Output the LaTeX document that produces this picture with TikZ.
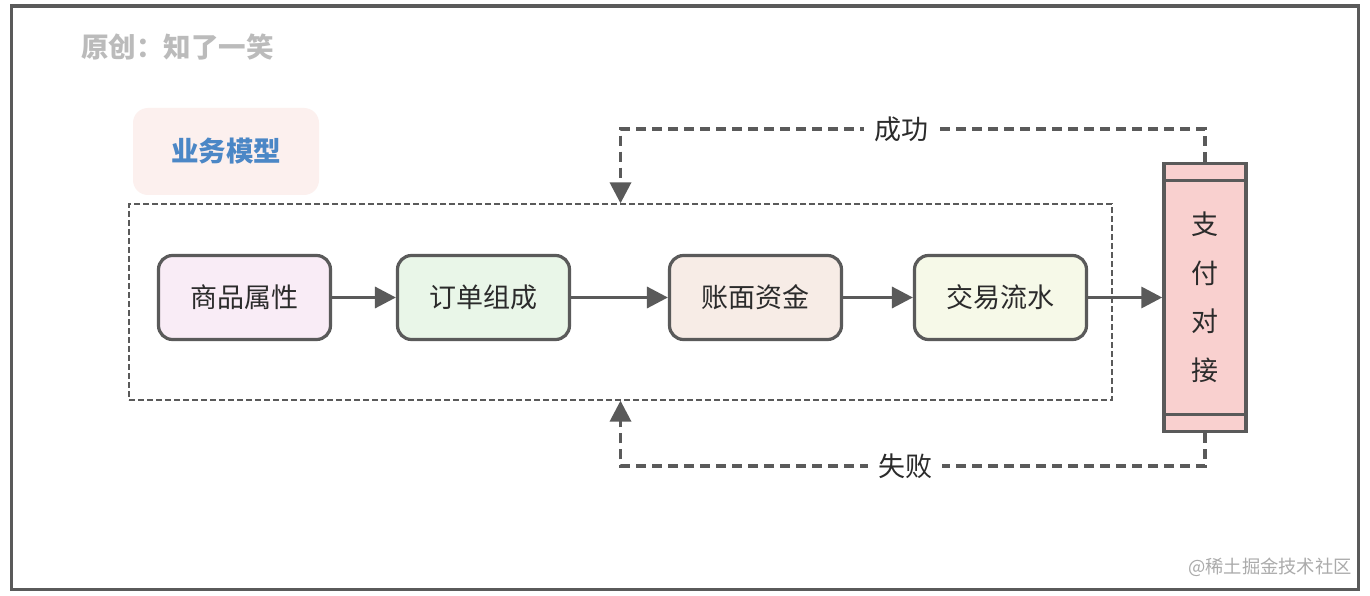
\documentclass[tikz,border=0pt]{standalone}
\usepackage{fontspec}
\setmainfont{Noto Sans CJK SC}
\usetikzlibrary{arrows.meta}
\definecolor{edge}{HTML}{5A5A5A}
\definecolor{txt}{HTML}{2B2B2B}
\definecolor{fA}{HTML}{F9ECF6}
\definecolor{fB}{HTML}{E9F6E8}
\definecolor{fC}{HTML}{F7ECE6}
\definecolor{fD}{HTML}{F6F9E8}
\definecolor{payfill}{HTML}{F9D0CF}
\definecolor{tagfill}{HTML}{FCF0EE}
\definecolor{tagtxt}{HTML}{4B87C6}
\definecolor{titlegray}{HTML}{BBBBBB}
\definecolor{wmgray}{HTML}{ABABAB}
\tikzset{
  stepbox/.style={draw=edge, line width=3.2pt, rounded corners=14pt,
    minimum width=172pt, minimum height=84pt, inner sep=0pt,
    text=txt, font=\fontsize{27}{30}\selectfont},
  flow/.style={draw=edge, line width=3.5pt, -{Triangle[length=21pt,width=21pt]}},
  backflow/.style={draw=edge, line width=3.5pt, dash pattern=on 10pt off 6pt,
    -{Triangle[length=21pt,width=21pt]}},
  lbl/.style={fill=white, inner xsep=10pt, inner ysep=2pt, text=txt,
    font=\fontsize{27}{30}\selectfont},
}
\begin{document}
\begin{tikzpicture}[x=1pt,y=-1pt]
\useasboundingbox (0,0) rectangle (1370,596);
\fill[white] (0,0) rectangle (1370,596);
\draw[edge, line width=3.2pt] (11.5,6) rectangle (1358.5,589.5);

\node[anchor=west, text=titlegray, font=\fontsize{27.5}{30}\selectfont\bfseries, inner sep=0pt] (title) at (81,47) {原创：知了一笑};

\node[fill=tagfill, rounded corners=15pt, minimum width=186pt, minimum height=87pt,
  text=tagtxt, font=\fontsize{27.5}{30}\selectfont\bfseries] (tag) at (226,151.5) {业务模型};

\node[draw=edge, line width=1.3pt, dash pattern=on 6pt off 3pt, minimum width=983pt,
  minimum height=196pt, inner sep=0pt] (model) at (620.5,302) {};

\node[stepbox, fill=fA] (a) at (244.5,297.5) {商品属性};
\node[stepbox, fill=fB] (b) at (483.5,297.5) {订单组成};
\node[stepbox, fill=fC] (c) at (755.5,297.5) {账面资金};
\node[stepbox, fill=fD] (d) at (1000.5,297.5) {交易流水};

\node[draw=edge, fill=payfill, line width=3.5pt, minimum width=82pt, minimum height=268pt,
  inner sep=0pt, align=center, text=txt, font=\fontsize{27}{48.5}\selectfont] (pay) at (1205,297.5) {支\\付\\对\\接};
\draw[edge, line width=3.5pt] (pay.north west) ++(0,19) coordinate (t1) -- (t1 -| pay.east);
\draw[edge, line width=3.5pt] (pay.south west) ++(0,-19) coordinate (t2) -- (t2 -| pay.east);

\draw[flow] (a) -- (b);
\draw[flow] (b) -- (c);
\draw[flow] (c) -- (d);
\draw[flow] (d) -- (pay);

\coordinate (s1) at (1205,129);
\coordinate (s2) at (620.5,129);
\coordinate (f1) at (1205,466);
\coordinate (f2) at (620.5,466);
\draw[backflow] (pay.north) -- (s1) -- node[lbl, pos=0.52] (ok) {成功} (s2) -- (model.north);
\draw[backflow] (pay.south) -- (f1) -- node[lbl, pos=0.513] (fail) {失败} (f2) -- (model.south);

\node[anchor=east, text=wmgray, font=\fontsize{18.3}{20}\selectfont, inner sep=0pt] (wm) at (1352,567) {@稀土掘金技术社区};
\end{tikzpicture}
\end{document}
